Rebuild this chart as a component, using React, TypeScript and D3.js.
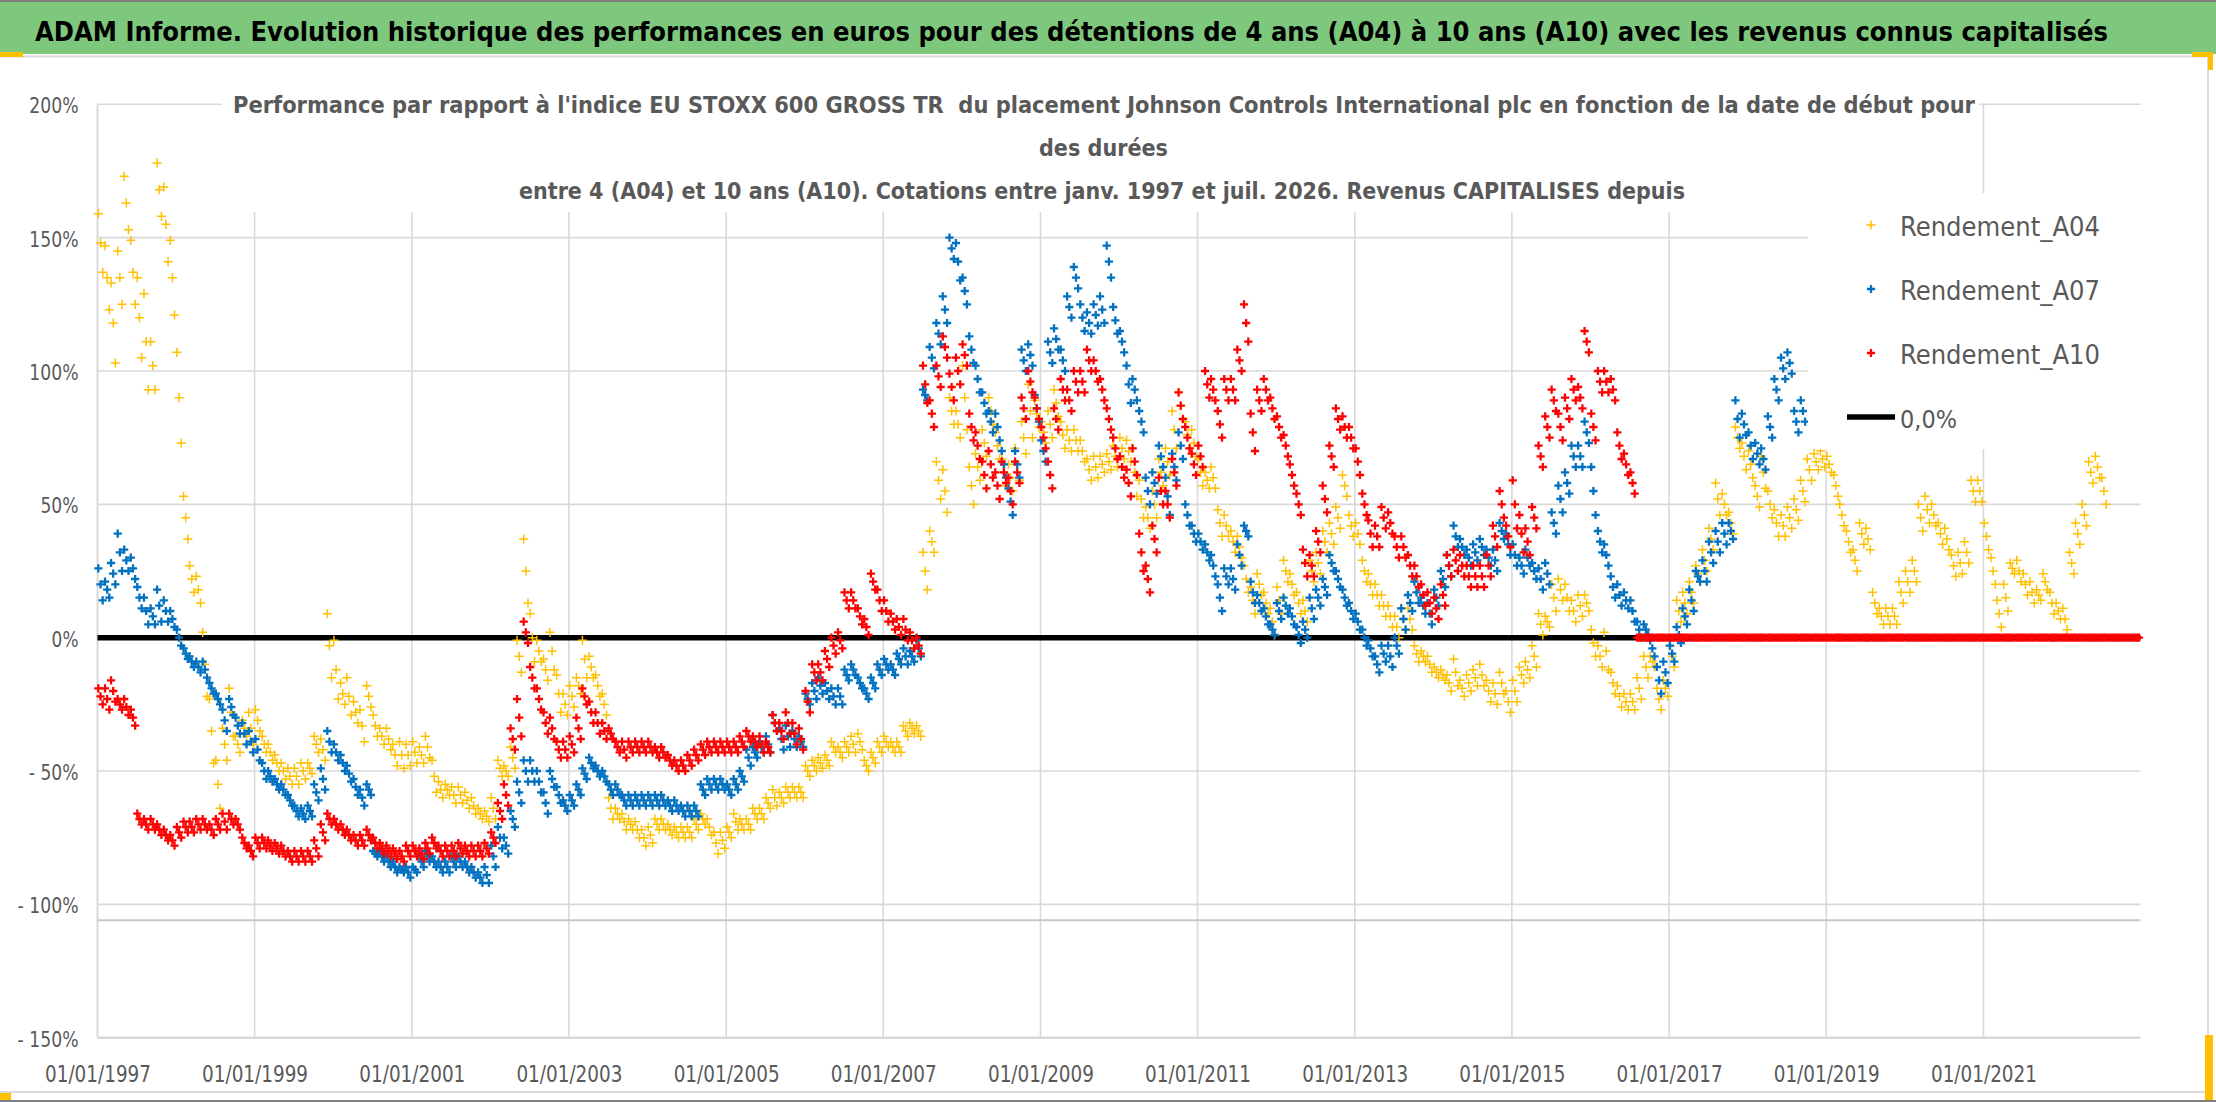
import React, { useEffect, useRef } from 'react';
import * as d3 from 'd3';

// Monthly readings (%), first value = janv. 1997: centre of the cloud for the month
const rendementA04: number[] = [
  148, 135, 118, 135, 163, 137, 120, 111, 102, 168, 155, 135, // 1997
  90, 45, 22, 18, -10, -35, -55, -40, -28, -40, -34, -34, // 1998
  -31, -40, -43, -47, -50, -52, -52, -50, -49, -40, -42, -3, // 1999
  -12, -21, -22, -28, -33, -22, -33, -37, -38, -44, -44, -44, // 2000
  -43, -44, -41, -52, -57, -57, -59, -59, -61, -63, -66, -67, // 2001
  -64, -49, -50, -45, -7, 25, 0, -5, -12, -5, -21, -25, // 2002
  -22, -18, -8, -11, -18, -25, -64, -66, -69, -70, -72, -75, // 2003
  -74, -70, -70, -72, -73, -73, -73, -70, -68, -71, -77, -76, // 2004
  -73, -69, -70, -70, -66, -66, -62, -60, -60, -58, -58, -58, // 2005
  -50, -48, -47, -46, -41, -43, -41, -40, -39, -48, -45, -41, // 2006
  -39, -41, -41, -35, -34, -35, 25, 36, 59, 55, 85, 80, // 2007
  90, 57, 64, 73, 85, 72, 62, 60, 65, 75, 85, 84, // 2008
  77, 80, 88, 76, 74, 74, 70, 63, 64, 65, 66, 68, // 2009
  71, 70, 62, 52, 45, 50, 62, 66, 78, 87, 76, 73, // 2010
  62, 59, 60, 43, 42, 36, 34, 22, 14, 20, 13, 6, // 2011
  14, 25, 20, 13, 10, 25, 28, 36, 39, 45, 57, 42, // 2012
  39, 25, 20, 16, 12, 8, 4, 7, 7, -6, -7, -10, // 2013
  -13, -14, -17, -13, -19, -17, -15, -14, -20, -21, -17, -24, // 2014
  -20, -14, -12, -7, 5, 6, 15, 18, 15, 10, 12, 13, // 2015
  -2, -7, -5, -17, -22, -24, -24, -19, -11, -9, -23, -19, // 2016
  -7, 10, 13, 17, 24, 29, 37, 52, 50, 43, 75, 68, // 2017
  65, 53, 62, 50, 43, 42, 45, 48, 55, 63, 66, 67, // 2018
  65, 57, 46, 36, 29, 39, 37, 13, 8, 8, 8, 17, // 2019
  21, 25, 45, 48, 46, 39, 37, 27, 28, 32, 55, 55, // 2020
  38, 25, 9, 15, 26, 25, 20, 17, 16, 21, 13, 10, // 2021
  7, 28, 39, 46, 62, 64, 55, // 2022
];
// half height of the cloud for each month (%)
const ecartA04: number[] = [
  11, 12, 15, 10, 10, 12, 15, 18, 9, 10, 14, 14, // 1997
  17, 8, 5, 5, 12, 12, 9, 6, 9, 3, 3, 6, // 1998
  4, 3, 3, 3, 3, 3, 3, 3, 2, 3, 4, 12, // 1999
  11, 4, 7, 4, 6, 4, 4, 3, 4, 4, 5, 4, // 2000
  4, 3, 4, 6, 3, 2, 3, 3, 3, 3, 2, 2, // 2001
  4, 3, 2, 4, 6, 12, 9, 4, 4, 7, 7, 4, // 2002
  4, 3, 7, 4, 4, 4, 4, 2, 3, 2, 3, 3, // 2003
  3, 2, 2, 2, 2, 2, 2, 2, 2, 3, 4, 3, // 2004
  2, 3, 2, 2, 2, 2, 2, 3, 2, 2, 2, 2, // 2005
  2, 2, 2, 2, 2, 2, 2, 3, 3, 2, 2, 2, // 2006
  2, 2, 2, 2, 2, 2, 7, 4, 7, 8, 5, 5, // 2007
  12, 7, 5, 5, 5, 5, 5, 5, 6, 6, 10, 5, // 2008
  4, 5, 5, 5, 4, 4, 4, 4, 4, 3, 3, 4, // 2009
  4, 4, 9, 7, 4, 5, 5, 5, 7, 5, 5, 5, // 2010
  5, 3, 4, 5, 4, 4, 4, 5, 5, 4, 4, 5, // 2011
  5, 4, 4, 4, 4, 4, 4, 4, 4, 4, 4, 4, // 2012
  4, 4, 4, 4, 4, 4, 4, 4, 4, 3, 2, 3, // 2013
  2, 2, 3, 5, 3, 3, 3, 4, 4, 4, 4, 4, // 2014
  4, 3, 3, 4, 4, 2, 5, 4, 5, 4, 4, 3, // 2015
  5, 4, 7, 4, 4, 3, 3, 4, 4, 2, 4, 3, // 2016
  4, 4, 4, 4, 3, 4, 4, 6, 4, 4, 4, 5, // 2017
  5, 4, 6, 5, 5, 4, 4, 4, 4, 4, 3, 3, // 2018
  3, 4, 4, 4, 4, 4, 4, 4, 3, 3, 3, 4, // 2019
  4, 4, 5, 5, 4, 4, 4, 4, 4, 4, 4, 4, // 2020
  5, 5, 5, 5, 2, 4, 4, 4, 2, 3, 4, 3, // 2021
  4, 4, 4, 4, 4, 4, 5, // 2022
];

const rendementA07: number[] = [
  20, 18, 24, 32, 29, 26, 15, 10, 8, 12, 10, 7, // 1997
  0, -6, -9, -11, -12, -19, -23, -31, -26, -33, -36, -39, // 1998
  -42, -50, -52, -55, -57, -61, -65, -66, -65, -58, -53, -39, // 1999
  -43, -47, -51, -56, -60, -57, -81, -82, -84, -86, -87, -88, // 2000
  -87, -84, -82, -84, -86, -86, -84, -84, -86, -88, -90, -89, // 2001
  -82, -75, -78, -68, -58, -50, -50, -54, -62, -53, -59, -63, // 2002
  -61, -57, -51, -47, -50, -52, -57, -57, -61, -61, -61, -61, // 2003
  -61, -61, -61, -63, -63, -65, -65, -65, -57, -55, -55, -55, // 2004
  -57, -55, -52, -45, -43, -41, -40, -32, -38, -37, -38, -39, // 2005
  -23, -20, -18, -20, -22, -22, -14, -12, -17, -21, -17, -12, // 2006
  -10, -12, -8, -7, -7, -4, 91, 105, 114, 123, 146, 141, // 2007
  130, 108, 97, 88, 81, 79, 65, 51, 65, 104, 106, 86, // 2008
  70, 107, 112, 104, 124, 135, 120, 118, 121, 123, 141, 119, // 2009
  111, 95, 93, 81, 55, 58, 68, 53, 64, 72, 46, 39, // 2010
  36, 32, 27, 15, 23, 22, 31, 40, 17, 13, 8, 3, // 2011
  10, 12, 8, 1, 3, 11, 15, 19, 28, 22, 15, 10, // 2012
  6, 0, -4, -10, -6, -7, -3, 7, 13, 17, 12, 9, // 2013
  15, 22, 27, 38, 34, 30, 32, 34, 30, 29, 40, 35, // 2014
  31, 27, 30, 25, 22, 24, 43, 52, 58, 68, 68, 77, // 2015
  55, 36, 31, 19, 16, 14, 10, 3, 3, -4, -16, -13, // 2016
  -6, 1, 8, 14, 23, 25, 32, 36, 39, 40, 82, 80, // 2017
  72, 69, 67, 79, 93, 101, 103, 81, 85, // 2018
];
const ecartA07: number[] = [
  6, 3, 4, 7, 4, 4, 4, 5, 3, 6, 4, 3, // 1997
  3, 2, 2, 2, 3, 2, 2, 4, 3, 3, 4, 4, // 1998
  4, 3, 2, 2, 2, 2, 2, 2, 2, 3, 4, 4, // 1999
  3, 3, 3, 3, 3, 2, 1, 2, 2, 2, 1, 2, // 2000
  1, 2, 2, 2, 2, 2, 2, 2, 2, 2, 2, 3, // 2001
  4, 4, 3, 3, 4, 4, 4, 4, 4, 3, 3, 2, // 2002
  2, 2, 2, 2, 2, 2, 2, 2, 2, 2, 2, 2, // 2003
  2, 2, 2, 2, 2, 2, 2, 2, 2, 2, 2, 2, // 2004
  2, 2, 2, 3, 2, 2, 3, 3, 4, 4, 3, 2, // 2005
  2, 3, 3, 3, 3, 3, 2, 2, 2, 2, 2, 2, // 2006
  2, 2, 2, 3, 2, 3, 2, 4, 4, 5, 4, 7, // 2007
  5, 5, 5, 4, 4, 5, 5, 5, 5, 4, 4, 5, // 2008
  4, 4, 4, 4, 4, 4, 5, 4, 4, 5, 6, 5, // 2009
  4, 7, 4, 4, 5, 4, 4, 7, 5, 5, 4, 3, // 2010
  3, 3, 4, 5, 3, 4, 4, 2, 4, 3, 3, 2, // 2011
  3, 3, 3, 3, 3, 4, 3, 3, 3, 3, 3, 3, // 2012
  3, 3, 3, 3, 3, 4, 3, 4, 3, 4, 3, 4, // 2013
  3, 3, 4, 4, 3, 3, 3, 3, 3, 4, 3, 4, // 2014
  4, 3, 3, 3, 4, 4, 4, 5, 4, 4, 4, 4, // 2015
  9, 4, 4, 4, 4, 3, 4, 3, 2, 3, 5, 4, // 2016
  3, 3, 3, 4, 2, 4, 4, 4, 4, 3, 7, 4, // 2017
  5, 4, 4, 4, 4, 4, 4, 4, 4, // 2018
];

const rendementA10: number[] = [
  -22, -23, -20, -25, -26, -30, -68, -70, -70, -72, -74, -76, // 1997
  -73, -71, -71, -70, -70, -72, -70, -69, -68, -70, -77, -80, // 1998
  -77, -77, -78, -79, -80, -82, -82, -82, -82, -79, -73, -68, // 1999
  -70, -72, -74, -76, -76, -74, -77, -79, -80, -81, -82, -80, // 2000
  -80, -81, -79, -77, -80, -80, -80, -79, -80, -80, -80, -79, // 2001
  -75, -65, -59, -38, -30, 2, -15, -23, -32, -34, -42, -42, // 2002
  -40, -34, -22, -28, -32, -35, -36, -41, -42, -41, -41, -41, // 2003
  -41, -43, -43, -46, -48, -48, -46, -44, -42, -41, -41, -41, // 2004
  -41, -41, -39, -37, -39, -40, -41, -32, -35, -32, -36, -38, // 2005
  -24, -13, -13, -8, -3, -1, 14, 14, 8, 4, 21, 14, // 2006
  10, 6, 4, 3, -1, -3, 95, 84, 98, 109, 94, 100, // 2007
  106, 79, 72, 61, 65, 57, 62, 55, 62, 86, 96, 86, // 2008
  75, 61, 82, 93, 89, 96, 96, 104, 100, 93, 82, 71, // 2009
  64, 58, 66, 32, 22, 37, 55, 50, 62, 87, 75, 65, // 2010
  68, 95, 93, 80, 93, 93, 104, 118, 77, 89, 93, 86, // 2011
  79, 72, 61, 50, 28, 27, 36, 52, 68, 82, 79, 75, // 2012
  66, 50, 39, 38, 45, 43, 34, 34, 27, 23, 16, 13, // 2013
  11, 16, 27, 29, 27, 23, 23, 23, 27, 38, 50, 38, // 2014
  50, 39, 36, 45, 68, 79, 89, 79, 86, 93, 90, 111, // 2015
  79, 96, 96, 93, 72, 65, 58, 0, 0, 0, 0, 0, // 2016
  0, 0, 0, 0, 0, 0, 0, 0, 0, 0, 0, 0, // 2017
  0, 0, 0, 0, 0, 0, 0, 0, 0, 0, 0, 0, // 2018
  0, 0, 0, 0, 0, 0, 0, 0, 0, 0, 0, 0, // 2019
  0, 0, 0, 0, 0, 0, 0, 0, 0, 0, 0, 0, // 2020
  0, 0, 0, 0, 0, 0, 0, 0, 0, 0, 0, 0, // 2021
  0, 0, 0, 0, 0, 0, 0, 0, 0, 0, 0, 0, // 2022
];
const ecartA10: number[] = [
  3, 4, 4, 2, 3, 3, 2, 2, 2, 2, 2, 2, // 1997
  2, 2, 2, 2, 2, 2, 2, 3, 2, 2, 2, 2, // 1998
  2, 2, 2, 2, 2, 2, 2, 2, 2, 3, 3, 2, // 1999
  2, 2, 2, 2, 2, 2, 2, 2, 2, 2, 2, 2, // 2000
  2, 2, 2, 2, 2, 2, 2, 2, 2, 2, 2, 2, // 2001
  2, 3, 4, 4, 7, 4, 4, 4, 4, 4, 3, 3, // 2002
  3, 4, 3, 4, 4, 3, 2, 2, 3, 2, 2, 2, // 2003
  2, 2, 2, 2, 2, 2, 2, 2, 2, 2, 2, 2, // 2004
  2, 2, 2, 2, 2, 3, 2, 3, 3, 4, 4, 4, // 2005
  4, 3, 3, 3, 3, 3, 3, 3, 3, 3, 3, 4, // 2006
  4, 3, 3, 4, 3, 3, 7, 5, 4, 4, 5, 5, // 2007
  4, 5, 5, 5, 5, 5, 4, 5, 4, 4, 4, 4, // 2008
  4, 5, 4, 4, 4, 4, 4, 4, 4, 4, 4, 4, // 2009
  4, 5, 5, 7, 5, 5, 5, 5, 5, 5, 4, 4, // 2010
  4, 5, 4, 5, 4, 4, 4, 7, 7, 4, 4, 4, // 2011
  4, 4, 4, 4, 5, 4, 4, 5, 4, 4, 4, 4, // 2012
  5, 4, 5, 4, 4, 4, 4, 4, 4, 4, 4, 4, // 2013
  4, 4, 4, 4, 4, 4, 4, 4, 4, 4, 5, 4, // 2014
  9, 7, 5, 4, 4, 4, 4, 5, 4, 4, 4, 4, // 2015
  5, 4, 4, 4, 5, 4, 4, // 2016
];

const zeroLineDates = ['1997-01-01', '2023-01-01'];
const zeroLineValues = [0, 0];
const lowerRuleValue = -106;

const yTicks = [200, 150, 100, 50, 0, -50, -100, -150];
const xTickYears = [1997, 1999, 2001, 2003, 2005, 2007, 2009, 2011, 2013, 2015, 2017, 2019, 2021];

const chartTitle = "ADAM Informe. Evolution historique des performances en euros pour des détentions de 4 ans (A04) à 10 ans (A10) avec les revenus connus capitalisés";
const subTitle = [
  "Performance par rapport à l'indice EU STOXX 600 GROSS TR  du placement Johnson Controls International plc en fonction de la date de début pour",
  "des durées",
  "entre 4 (A04) et 10 ans (A10). Cotations entre janv. 1997 et juil. 2026. Revenus CAPITALISES depuis",
];

const W = 2216;
const H = 1102;
const FONT = "'Liberation Sans Narrow', 'DejaVu Sans Condensed', 'Roboto', sans-serif";

// rough Calibri advance widths, used to size the tick labels
const calibri: Record<string, number> = { '%': 0.715, '-': 0.306, ' ': 0.226, '/': 0.386 };
const textWidth = (s: string, size: number) =>
  s.split('').reduce((sum, c) => sum + (calibri[c] ?? 0.507), 0) * size;

// shrink the font if the natural run is wider than the target, then pin the length
function fitText(node: SVGTextElement, target: number, size: number) {
  node.style.fontSize = `${size}px`;
  const natural = node.getComputedTextLength();
  if (natural > target) node.style.fontSize = `${(size * target) / natural}px`;
  node.setAttribute('textLength', String(target));
  node.setAttribute('lengthAdjust', 'spacingAndGlyphs');
}

const App: React.FC = () => {
  const svgRef = useRef<SVGSVGElement>(null);

  useEffect(() => {
    if (!svgRef.current) return;
    const svg = d3.select(svgRef.current);
    svg.selectAll('*').remove();

    const margin = { left: 97.5, right: 2140.5, top: 104.3, bottom: 1037.7 };
    const x = d3.scaleTime()
      .domain([new Date(1997, 0, 1), new Date(2023, 0, 1)])
      .range([margin.left, margin.right]);
    const y = d3.scaleLinear().domain([-150, 200]).range([margin.bottom, margin.top]);

    // frame
    svg.append('rect').attr('width', W).attr('height', H).attr('fill', '#fff');
    svg.append('rect').attr('x', 0).attr('y', 0).attr('width', W).attr('height', 54).attr('fill', '#7EC87E');
    svg.append('rect').attr('x', 0).attr('y', 0).attr('width', W).attr('height', 2).attr('fill', '#7f7f7f');
    svg.append('rect').attr('x', 0).attr('y', H - 2).attr('width', W).attr('height', 2).attr('fill', '#7f7f7f');
    svg.append('line').attr('x1', 0).attr('x2', 2208).attr('y1', 56.5).attr('y2', 56.5)
      .attr('stroke', '#d9d9d9').attr('stroke-width', 2);
    svg.append('line').attr('x1', 2208).attr('x2', 2208).attr('y1', 56).attr('y2', 1093)
      .attr('stroke', '#d9d9d9').attr('stroke-width', 2);
    svg.append('line').attr('x1', 0).attr('x2', 2208).attr('y1', 1092).attr('y2', 1092)
      .attr('stroke', '#d9d9d9').attr('stroke-width', 2);
    const handles = [[0, 52, 23, 5], [2192, 52, 21, 5], [2208, 52, 5, 18], [0, 1093, 11, 7], [2205, 1035, 8, 65]];
    svg.selectAll('.handle').data(handles).enter().append('rect')
      .attr('x', d => d[0]).attr('y', d => d[1]).attr('width', d => d[2]).attr('height', d => d[3])
      .attr('fill', '#FFC000');

    const title = svg.append('text')
      .attr('x', 35).attr('y', 41)
      .style('font-family', FONT).style('font-weight', 'bold')
      .attr('fill', '#000')
      .text(chartTitle);
    fitText(title.node() as SVGTextElement, 2073, 34);

    // gridlines
    const grid = svg.append('g').attr('stroke', '#d9d9d9').attr('stroke-width', 1.6);
    grid.selectAll('.hg').data(yTicks.filter(v => v > -150)).enter().append('line')
      .attr('x1', margin.left).attr('x2', margin.right)
      .attr('y1', d => y(d)).attr('y2', d => y(d));
    grid.selectAll('.vg').data(xTickYears.filter(v => v > 1997)).enter().append('line')
      .attr('x1', d => x(new Date(d, 0, 1))).attr('x2', d => x(new Date(d, 0, 1)))
      .attr('y1', margin.top).attr('y2', margin.bottom);
    svg.append('line').attr('x1', margin.left).attr('x2', margin.left)
      .attr('y1', margin.top).attr('y2', margin.bottom).attr('stroke', '#d9d9d9').attr('stroke-width', 2);
    svg.append('line').attr('x1', margin.left).attr('x2', margin.right)
      .attr('y1', margin.bottom).attr('y2', margin.bottom).attr('stroke', '#d9d9d9').attr('stroke-width', 2.4);
    svg.append('line').attr('x1', margin.left).attr('x2', margin.right)
      .attr('y1', y(lowerRuleValue)).attr('y2', y(lowerRuleValue)).attr('stroke', '#c8c8c8').attr('stroke-width', 2);

    // axes
    const yLabel = (d: number) => (d < 0 ? `- ${-d}%` : `${d}%`);
    const yAxis = svg.append('g').attr('transform', `translate(${margin.left},0)`)
      .call(d3.axisLeft(y).tickValues(yTicks).tickSize(0).tickPadding(19)
        .tickFormat(d => yLabel(+d)));
    yAxis.select('.domain').remove();
    yAxis.selectAll('text')
      .attr('dy', '0.4em')
      .attr('textLength', (d: any) => textWidth(yLabel(+d), 22))
      .attr('lengthAdjust', 'spacingAndGlyphs')
      .style('font-family', FONT).style('font-size', '21px').attr('fill', '#595959');

    const fmt = d3.timeFormat('%d/%m/%Y');
    const xAxis = svg.append('g').attr('transform', `translate(0,${margin.bottom})`)
      .call(d3.axisBottom(x).tickValues(xTickYears.map(yr => new Date(yr, 0, 1))).tickSize(0).tickPadding(28)
        .tickFormat(d => fmt(d as Date)));
    xAxis.select('.domain').remove();
    xAxis.selectAll('text')
      .attr('textLength', 106).attr('lengthAdjust', 'spacingAndGlyphs')
      .style('font-family', FONT).style('font-size', '23px').attr('fill', '#595959');

    // chart title box
    svg.append('rect').attr('x', 222).attr('y', 78).attr('width', 1757).attr('height', 134).attr('fill', '#fff');
    const subX = [233, 1039, 519];
    const subLen = [1742, 129, 1166];
    const subY = [113, 156, 199];
    svg.selectAll('.sub').data(subTitle).enter().append('text')
      .attr('x', (_, i) => subX[i]).attr('y', (_, i) => subY[i])
      .style('font-family', FONT).style('font-weight', 'bold')
      .style('white-space', 'pre')
      .attr('fill', '#595959')
      .text(d => d)
      .each(function (_, i) { fitText(this as SVGTextElement, subLen[i], 27); });

    // 0,0% line
    const zeroPts = zeroLineDates.map((d, i) => [x(new Date(d)), y(zeroLineValues[i])] as [number, number]);
    svg.append('path').attr('d', d3.line()(zeroPts) as string)
      .attr('stroke', '#000').attr('stroke-width', 5.5).attr('fill', 'none');

    const series = [
      { name: 'Rendement_A04', values: rendementA04, spread: ecartA04, color: '#FFC000', half: 4.6, width: 1.5 },
      { name: 'Rendement_A07', values: rendementA07, spread: ecartA07, color: '#0070C0', half: 4.1, width: 2.3 },
      { name: 'Rendement_A10', values: rendementA10, spread: ecartA10, color: '#FF0000', half: 4.1, width: 2.3 },
    ];
    const plus = (h: number) => `M${-h},0H${h}M0,${-h}V${h}`;

    // each month: top of the cloud, centre, bottom of the cloud
    const days = [5, 15, 25];
    const sides = [1, 0, -1];
    series.forEach(s => {
      const pts = s.values.flatMap((v, i) =>
        days.map((day, k) => ({ date: new Date(1997, i, day), value: v + sides[k] * (s.spread[i] ?? 0) })));
      svg.append('g')
        .selectAll('path')
        .data(pts)
        .enter().append('path')
        .attr('transform', p => `translate(${x(p.date)},${y(p.value)})`)
        .attr('d', plus(s.half))
        .attr('stroke', s.color).attr('stroke-width', s.width).attr('fill', 'none');
    });

    // legend
    svg.append('rect').attr('x', 1808).attr('y', 193).attr('width', 342).attr('height', 256).attr('fill', '#fff');
    const legendY = [225, 289, 353];
    series.forEach((s, i) => {
      svg.append('path').attr('transform', `translate(1871,${legendY[i]})`)
        .attr('d', plus(s.half)).attr('stroke', s.color).attr('stroke-width', s.width);
      const t = svg.append('text').attr('x', 1900).attr('y', legendY[i] + 11)
        .style('font-family', FONT).attr('fill', '#595959')
        .text(s.name);
      fitText(t.node() as SVGTextElement, 200, 30);
    });
    svg.append('line').attr('x1', 1847).attr('x2', 1895).attr('y1', 417).attr('y2', 417)
      .attr('stroke', '#000').attr('stroke-width', 5.5);
    const z = svg.append('text').attr('x', 1900).attr('y', 428)
      .style('font-family', FONT).attr('fill', '#595959')
      .text('0,0%');
    fitText(z.node() as SVGTextElement, 57, 30);
  }, []);

  return (
    <div style={{ position: 'absolute', left: 0, top: 0, width: W, height: H }}>
      <svg ref={svgRef} width={W} height={H}></svg>
    </div>
  );
};

export default App;
